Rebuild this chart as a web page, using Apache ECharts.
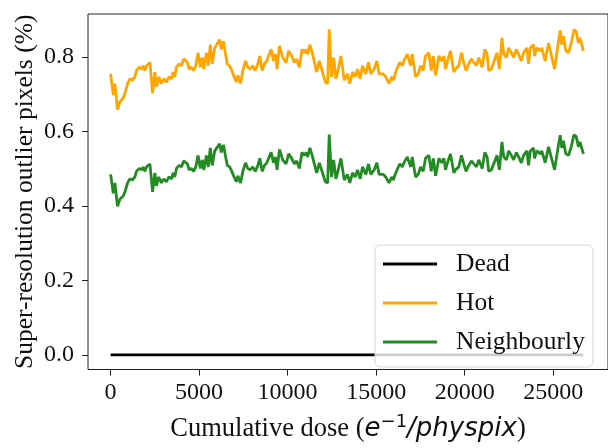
<!DOCTYPE html>
<html>
<head>
<meta charset="utf-8">
<script src="https://cdn.jsdelivr.net/npm/echarts@6/dist/echarts.min.js"></script>
<style>html,body{margin:0;padding:0;background:#fff;}#c{width:608px;height:448px;}</style>
</head>
<body>
<div id="c"></div>
<script>
const dose = [0,150,240,390,530,710,810,960,1090,1240,
1370,1460,1610,1750,1840,1930,2030,2220,2370,2500,
2590,2720,2870,3000,3150,3290,3440,3530,3620,3720,
3870,4000,4130,4240,4340,4430,4560,4690,4810,4940,
5070,5180,5270,5410,5520,5630,5740,5880,6160,6250,
6380,6480,6590,6720,6810,6950,7100,7190,7340,7470,
7620,7750,7880,8030,8170,8320,8430,8560,8690,8820,
9070,9200,9310,9400,9540,9720,9910,10060,10230,10380,
10510,10660,10810,10940,11040,11130,11260,11410,11640,11790,
12130,12260,12350,12480,12600,12730,12860,13010,13200,13380,
13510,13670,13820,13950,14100,14230,14420,14570,14700,14890,
15040,15170,15410,15540,15640,15730,15880,15970,16110,16330,
16480,16570,16760,16860,16950,17040,17230,17380,17510,17660,
17790,17980,18110,18230,18360,18550,18700,18830,18920,19010,
19200,19390,19480,19670,19820,19950,20080,20230,20380,20520,
20670,20800,20990,21140,21270,21360,21510,21640,21830,21960,
22110,22210,22360,22490,22640,22770,22920,23050,23200,23330,
23520,23610,23710,23890,23950,24080,24270,24360,24550,24740,
25080,25210,25300,25400,25490,25580,25720,25870,26020,26180,
26300,26430,26520,26710];

const hot = [0.755,0.698,0.729,0.659,0.681,0.690,0.703,0.729,0.742,0.738,
0.747,0.764,0.773,0.768,0.777,0.764,0.777,0.786,0.703,0.760,
0.720,0.747,0.729,0.742,0.733,0.747,0.742,0.760,0.747,0.773,
0.782,0.777,0.795,0.795,0.786,0.768,0.773,0.764,0.777,0.812,
0.773,0.799,0.768,0.812,0.777,0.834,0.782,0.825,0.847,0.821,
0.843,0.812,0.782,0.777,0.768,0.751,0.733,0.751,0.729,0.764,
0.790,0.773,0.768,0.777,0.764,0.782,0.803,0.764,0.782,0.790,
0.821,0.790,0.808,0.768,0.830,0.799,0.786,0.817,0.803,0.786,
0.795,0.773,0.821,0.812,0.821,0.808,0.834,0.808,0.760,0.790,
0.733,0.729,0.875,0.747,0.799,0.742,0.768,0.803,0.738,0.755,
0.729,0.760,0.747,0.768,0.742,0.777,0.755,0.786,0.755,0.768,
0.790,0.755,0.755,0.747,0.751,0.729,0.747,0.738,0.760,0.786,
0.777,0.790,0.808,0.812,0.777,0.808,0.747,0.755,0.777,0.764,
0.803,0.812,0.764,0.803,0.751,0.803,0.790,0.803,0.768,0.786,
0.817,0.760,0.768,0.777,0.812,0.786,0.764,0.782,0.795,0.786,
0.777,0.799,0.773,0.821,0.808,0.764,0.768,0.786,0.812,0.768,
0.852,0.808,0.799,0.825,0.812,0.799,0.821,0.808,0.790,0.812,
0.825,0.782,0.825,0.834,0.803,0.825,0.817,0.825,0.790,0.838,
0.768,0.812,0.843,0.872,0.834,0.856,0.817,0.812,0.838,0.874,
0.869,0.838,0.852,0.817];

const neighbourly = [0.485,0.434,0.462,0.399,0.419,0.427,0.438,0.462,0.473,0.470,
0.478,0.493,0.501,0.497,0.505,0.493,0.505,0.513,0.438,0.489,
0.454,0.478,0.462,0.473,0.465,0.478,0.473,0.489,0.478,0.501,
0.509,0.505,0.521,0.521,0.513,0.497,0.501,0.493,0.505,0.536,
0.501,0.524,0.497,0.536,0.505,0.556,0.509,0.548,0.567,0.544,
0.564,0.536,0.509,0.505,0.497,0.481,0.465,0.481,0.462,0.493,
0.516,0.501,0.497,0.505,0.493,0.509,0.528,0.493,0.509,0.516,
0.544,0.516,0.532,0.497,0.552,0.524,0.513,0.540,0.528,0.513,
0.521,0.501,0.544,0.536,0.544,0.532,0.556,0.532,0.489,0.516,
0.465,0.462,0.592,0.478,0.524,0.473,0.497,0.528,0.470,0.485,
0.462,0.489,0.478,0.497,0.473,0.505,0.485,0.513,0.485,0.497,
0.516,0.485,0.485,0.478,0.481,0.462,0.478,0.470,0.489,0.513,
0.505,0.516,0.532,0.536,0.505,0.532,0.478,0.485,0.505,0.493,
0.528,0.536,0.493,0.528,0.481,0.528,0.516,0.528,0.497,0.513,
0.540,0.489,0.497,0.505,0.536,0.513,0.493,0.509,0.521,0.513,
0.505,0.524,0.501,0.544,0.532,0.493,0.497,0.513,0.536,0.497,
0.572,0.532,0.524,0.548,0.536,0.524,0.544,0.532,0.516,0.536,
0.548,0.509,0.548,0.556,0.528,0.548,0.540,0.548,0.516,0.559,
0.497,0.536,0.564,0.590,0.556,0.575,0.540,0.536,0.559,0.591,
0.587,0.559,0.572,0.540];

const deadLevel = 0.0;
const xTicks = [0, 5000, 10000, 15000, 20000, 25000];
const yTicks = [0.0, 0.2, 0.4, 0.6, 0.8];
const seriesNames = ['Dead', 'Hot', 'Neighbourly'];

const pairs = (vals) => dose.map((d, i) => [d, vals[i]]);
const deadData = dose.map(d => [d, deadLevel]);

const serif = 'Liberation Serif';
const chart = echarts.init(document.getElementById('c'), null, {renderer: 'canvas'});
chart.setOption({
  animation: false,
  backgroundColor: '#fff',
  grid: {left: 88, top: 14, right: -2, bottom: 71, show: true, borderColor: '#222', borderWidth: 1, backgroundColor: 'transparent'},
  xAxis: {
    type: 'value', min: -1278, max: 28100,
    splitLine: {show: false},
    axisLine: {show: false, onZero: false},
    axisTick: {show: true, customValues: xTicks, length: 6, inside: false, lineStyle: {color: '#222', width: 1}},
    axisLabel: {customValues: xTicks, margin: 11, color: '#111', fontFamily: serif, fontSize: 24,
      formatter: v => String(v)},
    name: '{a|Cumulative dose (}{m|e}{s|−1}{m|/physpix}{a|)}',
    nameLocation: 'middle', nameGap: 44, nameMoveOverlap: false,
    nameTextStyle: {
      rich: {
        a: {fontFamily: serif, fontSize: 26.5, color: '#111'},
        m: {fontFamily: 'DejaVu Sans', fontStyle: 'italic', fontSize: 26, color: '#111'},
        s: {fontFamily: 'DejaVu Sans', fontSize: 18, color: '#111', padding: [0, 0, 14, 0]}
      }
    }
  },
  yAxis: {
    type: 'value', min: -0.0395, max: 0.916,
    splitLine: {show: false},
    axisLine: {show: false, onZero: false},
    axisTick: {show: true, customValues: yTicks, length: 6, inside: false, lineStyle: {color: '#222', width: 1}},
    axisLabel: {customValues: yTicks, margin: 14, color: '#111', fontFamily: serif, fontSize: 24,
      formatter: v => v.toFixed(1)},
    name: 'Super-resolution outlier pixels (%)',
    nameLocation: 'middle', nameGap: 50, nameRotate: 90, nameMoveOverlap: false,
    nameTextStyle: {fontFamily: serif, fontSize: 25.5, color: '#111'}
  },
  legend: {
    data: seriesNames,
    orient: 'vertical',
    left: 375, top: 245,
    padding: [6, 8, 12, 8],
    itemGap: 13,
    itemWidth: 54, itemHeight: 3,
    icon: 'rect',
    backgroundColor: 'rgba(255,255,255,0.8)',
    borderColor: '#d4d4d4', borderWidth: 1, borderRadius: 5,
    textStyle: {fontFamily: serif, fontSize: 25.5, color: '#111', padding: [0, 0, 0, 14]}
  },
  series: [
    {name: 'Dead', type: 'line', data: deadData, showSymbol: false, symbol: 'none', color: '#000',
      lineStyle: {width: 2.8, color: '#000'}, z: 2},
    {name: 'Hot', type: 'line', data: pairs(hot), showSymbol: false, symbol: 'none', color: '#ffa500',
      lineStyle: {width: 2.8, color: '#ffa500'}, z: 2},
    {name: 'Neighbourly', type: 'line', data: pairs(neighbourly), showSymbol: false, symbol: 'none', color: '#228b22',
      lineStyle: {width: 2.8, color: '#228b22'}, z: 2}
  ]
});
</script>
</body>
</html>
